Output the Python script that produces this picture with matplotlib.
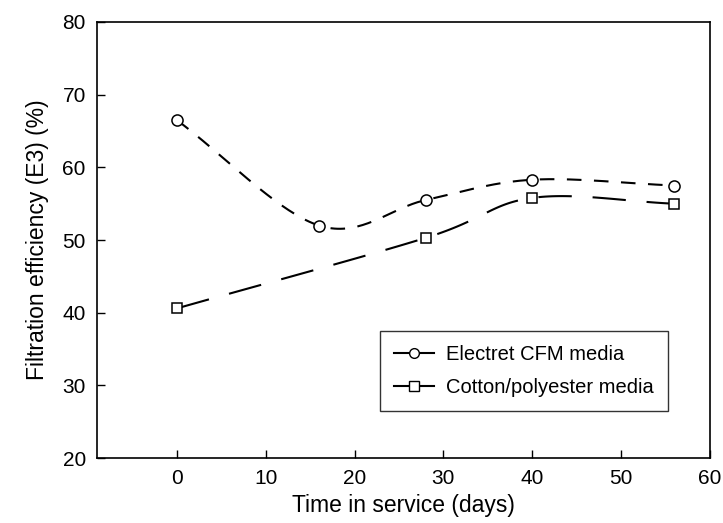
import matplotlib
matplotlib.use("Agg")
import matplotlib.pyplot as plt
import numpy as np

plt.rcParams['font.family'] = ['Liberation Sans', 'DejaVu Sans']

# Donnees
jours_electret = [0, 16, 28, 40, 56]
eff_electret = [66.5, 52.0, 55.5, 58.3, 57.5]
jours_coton = [0, 28, 40, 56]
eff_coton = [40.6, 50.3, 55.8, 55.0]
labels = ['Electret CFM media', 'Cotton/polyester media']


def lisse(x, y, n=40):
    # courbe de Catmull-Rom passant par les points (trace seulement)
    x = np.asarray(x, float)
    y = np.asarray(y, float)
    px = np.concatenate([[2 * x[0] - x[1]], x, [2 * x[-1] - x[-2]]])
    py = np.concatenate([[2 * y[0] - y[1]], y, [2 * y[-1] - y[-2]]])
    xs, ys = [], []
    t = np.linspace(0, 1, n)
    for i in range(1, len(px) - 2):
        for p, out in ((px, xs), (py, ys)):
            p0, p1, p2, p3 = p[i - 1], p[i], p[i + 1], p[i + 2]
            out.extend(0.5 * (2 * p1 + (-p0 + p2) * t
                              + (2 * p0 - 5 * p1 + 4 * p2 - p3) * t**2
                              + (-p0 + 3 * p1 - 3 * p2 + p3) * t**3))
    return xs, ys


fig = plt.figure(figsize=(7.23, 5.23), dpi=100)
ax = fig.add_axes([0.134, 0.124, 0.848, 0.834])

xe, ye = lisse(jours_electret, eff_electret)
xc, yc = lisse(jours_coton, eff_coton)
ax.plot(xe, ye, color='black', lw=1.5, dashes=(7, 6))
ax.plot(xc, yc, color='black', lw=1.5, dashes=(16, 10))
ax.plot(jours_electret, eff_electret, 'o', mfc='white', mec='black', ms=8, mew=1.1)
ax.plot(jours_coton, eff_coton, 's', mfc='white', mec='black', ms=7.5, mew=1.1)

# poignees de legende
h1, = ax.plot([], [], color='black', lw=1.5, marker='o', mfc='white', mec='black', ms=7)
h2, = ax.plot([], [], color='black', lw=1.5, marker='s', mfc='white', mec='black', ms=7)
leg = ax.legend([h1, h2], labels, loc='lower right', bbox_to_anchor=(0.948, 0.085),
                fontsize=14.5, frameon=True, fancybox=False, handlelength=2.0,
                handletextpad=0.6, borderpad=0.7, labelspacing=0.7)
leg.get_frame().set_edgecolor('black')
leg.get_frame().set_linewidth(1.0)

ax.set_xlim(-9, 60)
ax.set_ylim(20, 80)
ax.set_xticks([0, 10, 20, 30, 40, 50, 60])
ax.set_yticks([20, 30, 40, 50, 60, 70, 80])
ax.tick_params(direction='in', length=6, width=1, labelsize=15, pad=8)
for s in ax.spines.values():
    s.set_linewidth(1.2)

ax.set_xlabel('Time in service (days)', fontsize=16.5, labelpad=4)
ax.set_ylabel('Filtration efficiency (E3) (%)', fontsize=16.5, labelpad=10)

fig.savefig('out.png', dpi=100)
